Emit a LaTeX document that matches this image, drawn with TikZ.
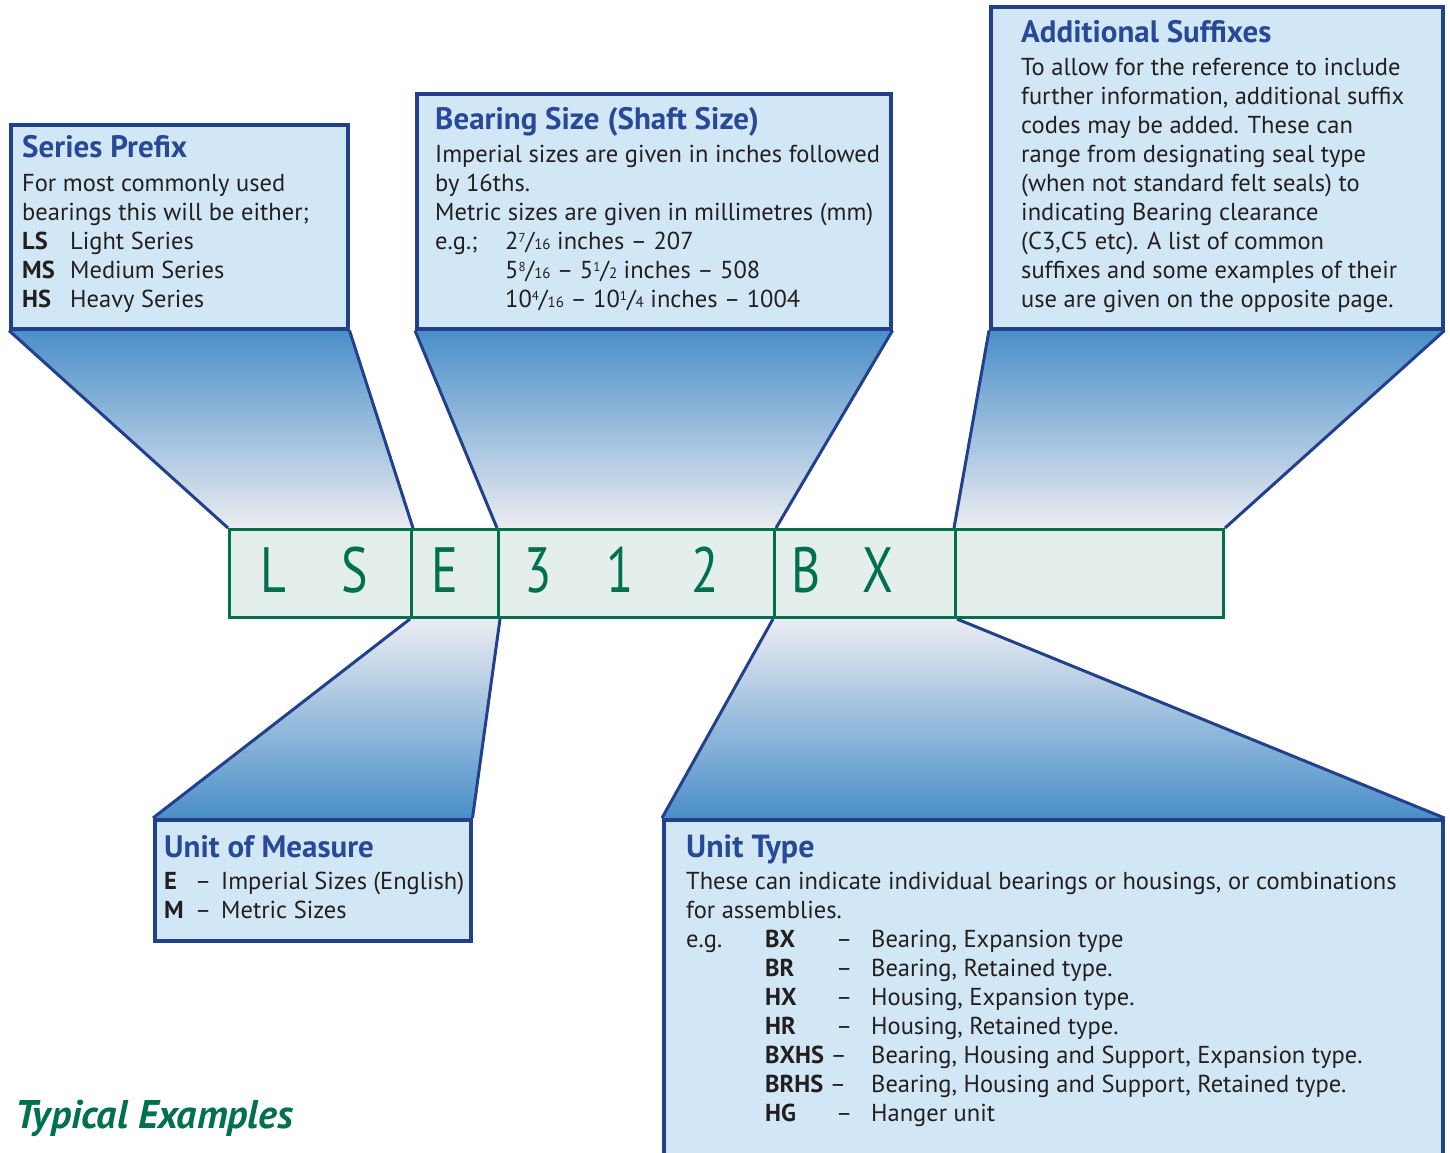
\documentclass[tikz,border=0pt]{standalone}
\usepackage{fontspec}
\setmainfont{PT Sans}
\newfontfamily\condfont{PT Sans}
\newfontfamily\codefont[FakeStretch=0.78]{PT Sans}
\usetikzlibrary{calc}
\definecolor{boxline}{HTML}{22408C}
\definecolor{boxfill}{HTML}{D2E7F5}
\definecolor{titleblue}{HTML}{284A96}
\definecolor{bodygrey}{HTML}{231F20}
\definecolor{funblue}{HTML}{4A8FC9}
\definecolor{funpale}{HTML}{EBECF1}
\definecolor{codegreen}{HTML}{00704F}
\definecolor{barfill}{HTML}{E4EFEC}
\pgfdeclarelayer{bg}
\pgfsetlayers{bg,main}
\newcommand{\bodylines}[2]{\parbox[t]{#1pt}{\fontsize{24.5}{29}\selectfont #2}}
\newcommand{\frc}[2]{\raisebox{0.55ex}{\fontsize{13}{13}\selectfont #1}/{\fontsize{15}{15}\selectfont #2}}
\tikzset{
  infobox/.style={draw=boxline, line width=3.5pt, fill=boxfill, anchor=north west, inner sep=0, rectangle},
  cell/.style={draw=codegreen, line width=3pt, fill=barfill, anchor=north west, inner sep=0, minimum height=88pt, rectangle},
  funline/.style={draw=boxline, line width=3pt},
  ttl/.style={anchor=base west, inner sep=0, text=titleblue, font=\fontsize{31}{33}\selectfont\bfseries},
  bodytxt/.style={anchor=base west, inner sep=0, text=bodygrey},
  codeletter/.style={anchor=base, inner sep=0, text=codegreen, font=\codefont\fontsize{64}{64}\selectfont},
  upfun/.style={top color=funblue, bottom color=funpale},
  downfun/.style={top color=funpale, bottom color=funblue}
}
\begin{document}
\begin{tikzpicture}[x=1pt,y=-1pt]
\useasboundingbox (0,0) rectangle (1450,1152);
\clip (0,0) rectangle (1450,1152);

% info boxes
\node[infobox, minimum width=337pt, minimum height=204pt] (sp) at (9,123) {};
\node[infobox, minimum width=474pt, minimum height=235pt] (bs) at (415,92) {};
\node[infobox, minimum width=452pt, minimum height=322pt] (as) at (989,5) {};
\node[infobox, minimum width=316pt, minimum height=121pt] (um) at (153,818) {};
\node[infobox, minimum width=779pt, minimum height=360pt] (ut) at (662,818) {};

% code bar
\node[cell, minimum width=182pt] (c1) at (228,528) {};
\node[cell, minimum width=87pt] (c2) at (410,528) {};
\node[cell, minimum width=276pt] (c3) at (497,528) {};
\node[cell, minimum width=181pt] (c4) at (773,528) {};
\node[cell, minimum width=268pt] (c5) at (954,528) {};

% funnels
\begin{pgfonlayer}{bg}
\fill[white] (0,0) rectangle (1450,1152);
\shade[upfun] (sp.south west) -- (sp.south east) -- (c1.north east) -- (c1.north west) -- cycle;
\shade[upfun] (bs.south west) -- (bs.south east) -- (c3.north east) -- (c3.north west) -- cycle;
\shade[upfun] (as.south west) -- (as.south east) -- (c5.north east) -- (c5.north west) -- cycle;
\shade[downfun] (c2.south west) -- (c2.south east) -- (um.north east) -- (um.north west) -- cycle;
\shade[downfun] (c4.south west) -- (c4.south east) -- (ut.north east) -- (ut.north west) -- cycle;
\end{pgfonlayer}
\draw[funline] (sp.south west) -- (c1.north west);
\draw[funline] (sp.south east) -- (c1.north east);
\draw[funline] (bs.south west) -- (c3.north west);
\draw[funline] (bs.south east) -- (c3.north east);
\draw[funline] (as.south west) -- (c5.north west);
\draw[funline] (as.south east) -- (c5.north east);
\draw[funline] (c2.south west) -- (um.north west);
\draw[funline] (c2.south east) -- (um.north east);
\draw[funline] (c4.south west) -- (ut.north west);
\draw[funline] (c4.south east) -- (ut.north east);

% redraw bar on top of funnel lines
\node[cell, minimum width=182pt] (d1) at (228,528) {};
\node[cell, minimum width=87pt] (d2) at (410,528) {};
\node[cell, minimum width=276pt] (d3) at (497,528) {};
\node[cell, minimum width=181pt] (d4) at (773,528) {};
\node[cell, minimum width=268pt] (d5) at (954,528) {};

% code letters
\node[codeletter] (lL) at (273,592) {L};
\node[codeletter] (lS) at (355,592) {S};
\node[codeletter] (lE) at (445,592) {E};
\node[codeletter] (l3) at (538,592) {3};
\node[codeletter] (l1) at (620,592) {1};
\node[codeletter] (l2) at (705,592) {2};
\node[codeletter] (lB) at (806,592) {B};
\node[codeletter] (lX) at (878,592) {X};

% Series Prefix
\node[ttl] (spt) at (22,157) {Series Prefix};
\node[bodytxt] (spb) at (22,191) {\bodylines{320}{For most commonly used\\
bearings this will be either;\\
\makebox[48pt][l]{\bfseries LS}Light Series\\
\makebox[48pt][l]{\bfseries MS}Medium Series\\
\makebox[48pt][l]{\bfseries HS}Heavy Series}};

% Bearing Size
\node[ttl] (bst) at (435,129) {Bearing Size (Shaft Size)};
\node[bodytxt] (bsb) at (435,162) {\bodylines{450}{Imperial sizes are given in inches followed\\
by 16ths.\\
Metric sizes are given in millimetres (mm)\\
\makebox[70pt][l]{e.g.;}2\frc{7}{16} inches – 207\\
\hspace*{70pt}5\frc{8}{16} – 5\frc{1}{2} inches – 508\\
\hspace*{70pt}10\frc{4}{16} – 10\frc{1}{4} inches – 1004}};

% Additional Suffixes
\node[ttl] (ast) at (1021,42) {Additional Suffixes};
\node[bodytxt] (asb) at (1021,75) {\bodylines{420}{To allow for the reference to include\\
further information, additional suffix\\
codes may be added. These can\\
range from designating seal type\\
(when not standard felt seals) to\\
indicating Bearing clearance\\
(C3,C5 etc). A list of common\\
suffixes and some examples of their\\
use are given on the opposite page.}};

% Unit of Measure
\node[ttl] (umt) at (164,857) {Unit of Measure};
\node[bodytxt] (umb) at (164,889) {\bodylines{300}{\makebox[31pt][l]{\bfseries E}\makebox[26pt][l]{–}Imperial Sizes (English)\\
\makebox[31pt][l]{\bfseries M}\makebox[26pt][l]{–}Metric Sizes}};

% Unit Type
\node[ttl, font=\condfont\fontsize{32}{34}\selectfont\bfseries] (utt) at (686,857) {Unit Type};
\node[bodytxt] (utb) at (686,889) {\bodylines{760}{\condfont These can indicate individual bearings or housings, or combinations\\
for assemblies.\\
\makebox[79pt][l]{e.g.}\makebox[71pt][l]{\bfseries BX}\makebox[35pt][l]{–}Bearing, Expansion type\\
\hspace*{79pt}\makebox[71pt][l]{\bfseries BR}\makebox[35pt][l]{–}Bearing, Retained type.\\
\hspace*{79pt}\makebox[71pt][l]{\bfseries HX}\makebox[35pt][l]{–}Housing, Expansion type.\\
\hspace*{79pt}\makebox[71pt][l]{\bfseries HR}\makebox[35pt][l]{–}Housing, Retained type.\\
\hspace*{79pt}\makebox[71pt][l]{{\bfseries BXHS} –}\makebox[35pt][l]{}Bearing, Housing and Support, Expansion type.\\
\hspace*{79pt}\makebox[71pt][l]{{\bfseries BRHS} –}\makebox[35pt][l]{}Bearing, Housing and Support, Retained type.\\
\hspace*{79pt}\makebox[71pt][l]{\bfseries HG}\makebox[35pt][l]{–}Hanger unit}};

% footer
\node[anchor=base west, inner sep=0, text=codegreen, font=\fontsize{40}{44}\selectfont\bfseries\itshape] (te) at (15,1128) {Typical Examples};
\end{tikzpicture}
\end{document}
